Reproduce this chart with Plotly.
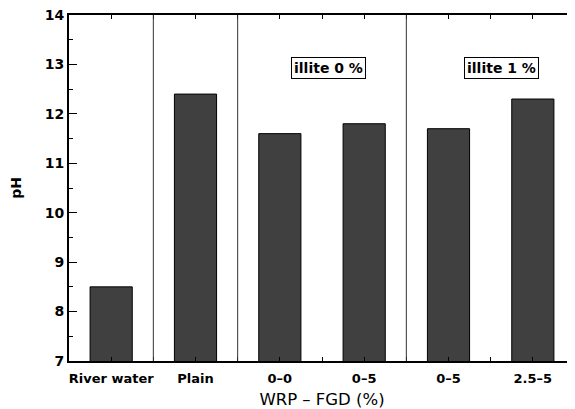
import plotly.graph_objects as go

categories = ["River water", "Plain", "0-0", "0-5", "0-5", "2.5-5"]
ph_values = [8.5, 12.4, 11.6, 11.8, 11.7, 12.3]
separators = [0.5, 1.5, 3.5]
group_labels = ["illite 0 %", "illite 1 %"]
group_centers = [2.58, 4.63]

xpos = list(range(len(categories)))
FONT = "DejaVu Sans, Arial, sans-serif"

fig = go.Figure()
fig.add_trace(go.Bar(
    x=xpos, y=ph_values, width=0.5,
    marker=dict(color="#404040", line=dict(color="black", width=1)),
    showlegend=False,
))

for s in separators:
    fig.add_shape(type="line", x0=s, x1=s, y0=7, y1=14, xref="x", yref="y",
                  line=dict(color="#333333", width=1))

for lab, cx in zip(group_labels, group_centers):
    fig.add_annotation(x=cx, y=12.92, xref="x", yref="y", text="<b>" + lab + "</b>",
                       showarrow=False, font=dict(family=FONT, size=14, color="black"),
                       bordercolor="black", borderwidth=1, borderpad=2, bgcolor="white")

# page body has an 8px default margin, so the figure is sized to fit the window
fig.update_layout(
    width=567, height=401,
    margin=dict(l=61, r=0, t=7, b=48),
    plot_bgcolor="white", paper_bgcolor="white",
    font=dict(family=FONT, color="black"),
    bargap=0.5,
)
fig.update_xaxes(
    range=[-0.5, 5.5], tickvals=xpos, automargin=False,
    ticktext=["<b>" + c.replace("-", "\u2013") + "</b>" for c in categories],
    tickfont=dict(family=FONT, size=13),
    ticks="inside", ticklen=4, tickcolor="black", ticklabelstandoff=4,
    ticklabeloverflow="allow",
    minor=dict(dtick=0.5, tick0=0.5, ticks="inside", ticklen=4, tickcolor="black"),
    showline=True, linecolor="black", linewidth=2, mirror="ticks",
    showgrid=False, zeroline=False,
    title=dict(text="WRP \u2013 FGD (%)", font=dict(family=FONT, size=16.5), standoff=12),
)
fig.update_yaxes(
    range=[7, 14], dtick=1, automargin=False,
    tickfont=dict(family=FONT, size=14, weight="bold"),
    ticks="inside", ticklen=8, tickcolor="black",
    ticklabeloverflow="allow",
    minor=dict(dtick=0.5, ticks="inside", ticklen=4, tickcolor="black"),
    showline=True, linecolor="black", linewidth=2, mirror=True,
    showgrid=False, zeroline=False,
    title=dict(text="<b>pH</b>", font=dict(family=FONT, size=14), standoff=22),
)

fig.write_html("out.html")
